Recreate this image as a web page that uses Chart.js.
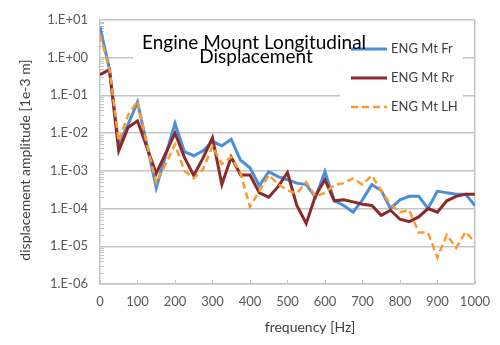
<!DOCTYPE html>
<html>
<head>
<meta charset="utf-8">
<script src="https://cdn.jsdelivr.net/npm/chart.js@4.4.1/dist/chart.umd.min.js"></script>
<style>
  html, body { margin: 0; padding: 0; background: #fff; }
</style>
</head>
<body>
<canvas id="chart" width="500" height="345"></canvas>
<script>
// frequency points [Hz]
var freq = [0, 25, 50, 75, 100, 125, 150, 175, 200, 225, 250, 275, 300, 325, 350, 375, 400,
            425, 450, 475, 500, 525, 550, 575, 600, 625, 650, 675, 700, 725, 750, 775, 800,
            825, 850, 875, 900, 925, 950, 975, 1000];

// displacement amplitude [1e-3 m]
var mtFr = [6.5, 0.5, 0.005, 0.017, 0.066, 0.005, 0.00035, 0.0025, 0.018, 0.0032, 0.0025,
            0.0034, 0.006, 0.0046, 0.0068, 0.0019, 0.0012, 0.0004, 0.00095, 0.0007, 0.00058,
            0.00047, 0.00043, 0.0002, 0.00095, 0.00016, 0.00012, 0.00008, 0.00017, 0.00043,
            0.0003, 0.0001, 0.00017, 0.00021, 0.00021, 0.0001, 0.00029, 0.00026, 0.00024,
            0.00024, 0.00012];
var mtRr = [0.35, 0.48, 0.0034, 0.014, 0.021, 0.0042, 0.00085, 0.0029, 0.01, 0.0023, 0.00075,
            0.0022, 0.0075, 0.00043, 0.0023, 0.00077, 0.00077, 0.00026, 0.0002, 0.00038, 0.0009,
            0.00012, 0.00004, 0.00022, 0.00058, 0.00016, 0.00017, 0.00015, 0.00013, 0.00012,
            0.000066, 0.00009, 0.000052, 0.000045, 0.00006, 0.0001, 0.00008, 0.00016, 0.00021,
            0.00024, 0.00024];
var mtLH = [4, 0.5, 0.006, 0.03, 0.07, 0.005, 0.00047, 0.0015, 0.005, 0.001, 0.00063,
            0.0011, 0.0045, 0.0015, 0.0023, 0.00085, 0.00011, 0.00029, 0.00077, 0.00045, 0.0003,
            0.00025, 0.0005, 0.00021, 0.00026, 0.00042, 0.00047, 0.00063, 0.00043, 0.00075,
            0.0003, 0.00013, 0.00008, 0.00009, 0.000023, 0.000023, 0.000005, 0.00002, 0.000009,
            0.000024, 0.000013];

var seriesNames = ["ENG Mt Fr", "ENG Mt Rr", "ENG Mt LH"];
var yTicks = [1e-6, 1e-5, 1e-4, 1e-3, 1e-2, 1e-1, 1, 10];
var yLabels = ["1.E-06", "1.E-05", "1.E-04", "1.E-03", "1.E-02", "1.E-01", "1.E+00", "1.E+01"];
var chartTitle = ["Engine Mount Longitudinal", "Displacement"];
var xTitle = "frequency [Hz]";
var yTitle = "displacement amplitude [1e-3 m]";

var FONT = "Lato, 'Open Sans', sans-serif";
var GRID = "#c4c4c4";

function pts(vals) {
  return freq.map(function (f, i) { return { x: f, y: vals[i] }; });
}

// title, legend, axis titles and minor ticks drawn inside the plot like the spreadsheet chart
var decorPlugin = {
  id: "decor",
  beforeDatasetsDraw: function (chart) {
    var ctx = chart.ctx, ca = chart.chartArea;
    var xs = chart.scales.x, ys = chart.scales.y;
    ctx.save();

    // minor ticks on the log axis
    ctx.strokeStyle = GRID;
    ctx.lineWidth = 1;
    for (var d = 0; d < yTicks.length - 1; d++) {
      for (var m = 2; m < 10; m++) {
        var py = Math.round(ys.getPixelForValue(yTicks[d] * m)) + 0.5;
        ctx.beginPath();
        ctx.moveTo(ca.left, py);
        ctx.lineTo(ca.left + 4, py);
        ctx.stroke();
      }
    }
    // small x tick marks
    for (var f = 0; f <= 1000; f += 100) {
      var px = Math.round(xs.getPixelForValue(f)) + 0.5;
      ctx.beginPath();
      ctx.moveTo(px, ca.bottom);
      ctx.lineTo(px, ca.bottom - 4);
      ctx.stroke();
    }

    // white boxes for title and legend
    ctx.fillStyle = "#fff";
    ctx.fillRect(133, 30, 242, 38);
    ctx.fillRect(340, 33, 123, 90);

    // legend
    var ds = chart.data.datasets;
    ctx.font = "13px " + FONT;
    ctx.textAlign = "left";
    ctx.textBaseline = "middle";
    for (var i = 0; i < ds.length; i++) {
      var ly = 49 + i * 29;
      ctx.strokeStyle = ds[i].borderColor;
      ctx.lineWidth = ds[i].borderWidth;
      ctx.setLineDash(ds[i].borderDash || []);
      ctx.beginPath();
      ctx.moveTo(351, ly);
      ctx.lineTo(387, ly);
      ctx.stroke();
      ctx.setLineDash([]);
      ctx.fillStyle = "#404040";
      ctx.fillText(ds[i].label, 391, ly);
    }

    // title
    ctx.fillStyle = "#000";
    ctx.font = "19px " + FONT;
    ctx.textAlign = "center";
    ctx.textBaseline = "alphabetic";
    ctx.fillText(chartTitle[0], 254, 49);
    ctx.fillText(chartTitle[1], 256, 63);
    ctx.restore();
  },
  afterDraw: function (chart) {
    var ctx = chart.ctx;
    ctx.save();
    ctx.fillStyle = "#404040";
    ctx.font = "14px " + FONT;
    ctx.textAlign = "center";
    ctx.textBaseline = "middle";
    ctx.fillText(xTitle, 310, 327);
    ctx.translate(25, 160);
    ctx.rotate(-Math.PI / 2);
    ctx.fillText(yTitle, 0, 0);
    ctx.restore();
  }
};

var ctx = document.getElementById("chart");
var chart = new Chart(ctx, {
  type: "line",
  data: {
    datasets: [
      { label: seriesNames[0], data: pts(mtFr), borderColor: "#4a8fdb", borderWidth: 3, order: 3 },
      { label: seriesNames[1], data: pts(mtRr), borderColor: "#8c2a2a", borderWidth: 3, order: 2 },
      { label: seriesNames[2], data: pts(mtLH), borderColor: "#fd9a2e", borderWidth: 2.5, borderDash: [7, 4], order: 1 }
    ]
  },
  options: {
    responsive: false,
    animation: false,
    elements: {
      point: { radius: 0 },
      line: { tension: 0, fill: false, borderCapStyle: "butt" }
    },
    layout: { padding: { left: 0, right: 22, top: 12, bottom: 12 } },
    plugins: {
      legend: { display: false },
      title: { display: false },
      tooltip: { enabled: false }
    },
    scales: {
      x: {
        type: "linear",
        min: 0,
        max: 1000,
        ticks: {
          stepSize: 100,
          color: "#595959",
          font: { family: FONT, size: 13 },
          padding: 10,
          maxRotation: 0,
          callback: function (v) { return String(v); }
        },
        grid: {
          drawTicks: false,
          color: function (c) { return c.tick && c.tick.value === 1000 ? GRID : "rgba(0,0,0,0)"; },
          lineWidth: 1.5
        },
        border: { color: GRID, width: 1.5 },
        afterFit: function (s) { s.height = 49; }
      },
      y: {
        type: "logarithmic",
        min: 1e-6,
        max: 10,
        afterBuildTicks: function (s) {
          s.ticks = yTicks.map(function (v) { return { value: v }; });
        },
        ticks: {
          color: "#595959",
          font: { family: FONT, size: 13 },
          padding: 12,
          callback: function (v) {
            var k = yTicks.indexOf(v);
            return k >= 0 ? yLabels[k] : "";
          }
        },
        grid: { drawTicks: false, color: GRID, lineWidth: 1.5 },
        border: { color: GRID, width: 1.5 },
        afterFit: function (s) { s.width = 100; }
      }
    }
  },
  plugins: [decorPlugin]
});
</script>
</body>
</html>
